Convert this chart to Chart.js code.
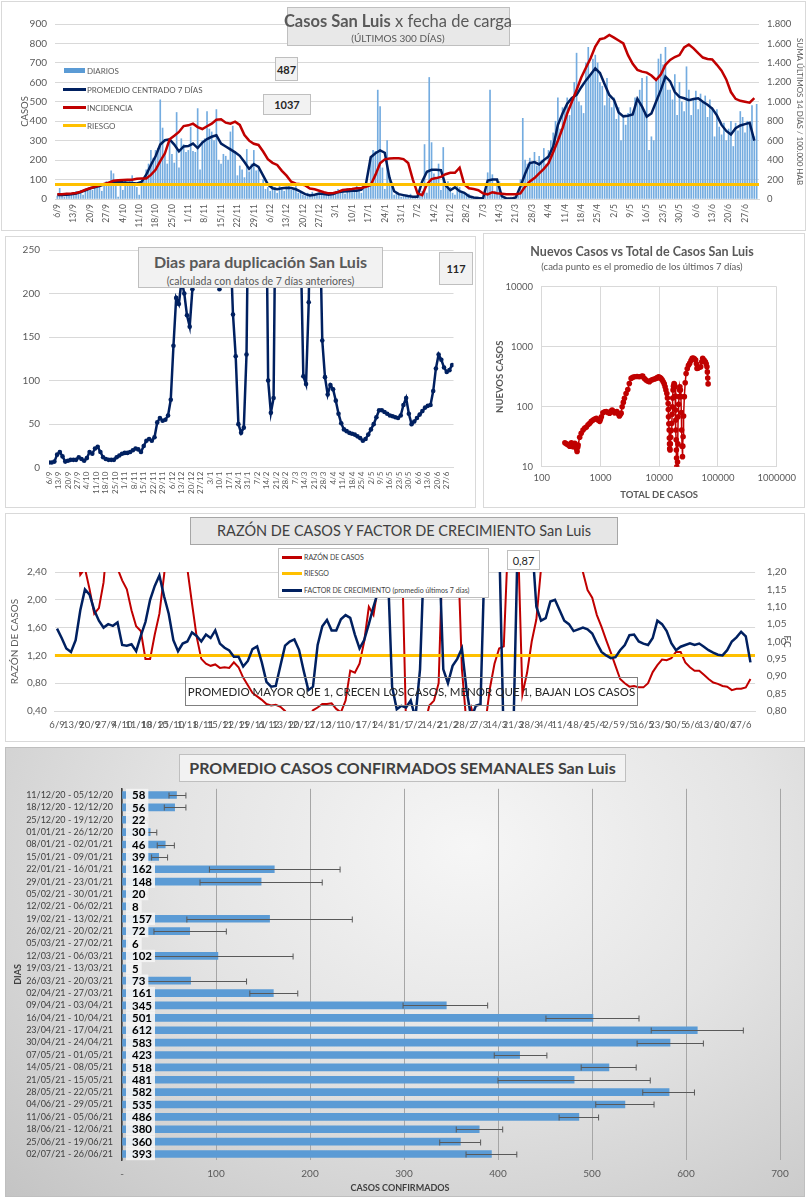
<!DOCTYPE html>
<html lang="es">
<head>
<meta charset="utf-8">
<title>Casos San Luis</title>
<script src="https://cdn.jsdelivr.net/npm/chart.js@4.4.1/dist/chart.umd.min.js"></script>
<style>
body { margin:0; width:807px; height:1200px; position:relative; background:#fff; font-family: Lato, sans-serif; color:#595959; overflow:hidden; }
.panel { position:absolute; border:1px solid #d9d9d9; box-sizing:border-box; background:#fff; }
canvas { position:absolute; }
.caja { position:absolute; box-sizing:border-box; border:1px solid #bfbfbf; background:#f2f2f2; }
.num { display:flex; align-items:center; justify-content:center; font-weight:bold; font-size:11px; color:#262626; }
.t { position:absolute; white-space:nowrap; line-height:1; }
.c { transform:translate(-50%,-50%); }
.l { transform:translateY(-50%); }
.sw { position:absolute; }
</style>
</head>
<body>

<!-- paneles -->
<div class="panel" style="left:1px;top:1px;width:805px;height:230px"></div>
<div class="panel" style="left:5px;top:236px;width:471px;height:272px"></div>
<div class="panel" style="left:483px;top:233px;width:322px;height:275px"></div>
<div class="panel" style="left:5px;top:513px;width:800px;height:229px"></div>
<div class="panel" style="left:5px;top:747px;width:800px;height:450px;border-color:#bfbfbf;background:radial-gradient(ellipse at 58% 22%, #f6f6f6 0%, #e4e4e4 45%, #c4c4c4 100%)"></div>

<canvas id="c1" width="807" height="232" style="left:0;top:0"></canvas>
<canvas id="c2" width="473" height="273" style="left:5px;top:235px"></canvas>
<canvas id="c3" width="325" height="273" style="left:480px;top:235px"></canvas>
<canvas id="c4" width="807" height="228" style="left:0;top:512px"></canvas>
<canvas id="c5" width="800" height="452" style="left:5px;top:745px"></canvas>

<!-- panel 1 -->
<div class="caja" style="left:287px;top:7px;width:223px;height:39px;background:#e8e8e8"></div>
<div class="t c" style="left:398px;top:21px;font-size:16.5px"><b>Casos San Luis</b> x fecha de carga</div>
<div class="t c" style="left:398px;top:38px;font-size:10px">(ÚLTIMOS 300 DÍAS)</div>
<div class="caja num" style="left:275px;top:57px;width:23px;height:24px">487</div>
<div class="caja num" style="left:263px;top:94px;width:48px;height:21px">1037</div>
<div class="sw" style="left:64px;top:68px;width:21px;height:5px;background:#5B9BD5"></div>
<div class="t l" style="left:87px;top:71px;font-size:8px">DIARIOS</div>
<div class="sw" style="left:63px;top:88px;width:23px;height:3px;background:#002060"></div>
<div class="t l" style="left:87px;top:89.5px;font-size:8px">PROMEDIO CENTRADO 7 DÍAS</div>
<div class="sw" style="left:63px;top:106px;width:23px;height:3px;background:#C00000"></div>
<div class="t l" style="left:87px;top:107.5px;font-size:8px">INCIDENCIA</div>
<div class="sw" style="left:63px;top:124px;width:23px;height:3px;background:#FFC000"></div>
<div class="t l" style="left:87px;top:125.5px;font-size:8px">RIESGO</div>

<!-- panel 2 -->
<div class="caja" style="left:138px;top:247px;width:245px;height:41px"></div>
<div class="t c" style="left:260.5px;top:262px;font-size:16px;font-weight:bold">Dias para duplicación San Luis</div>
<div class="t c" style="left:260.5px;top:281px;font-size:10.5px">(calculada con datos de 7 días anteriores)</div>
<div class="caja num" style="left:439px;top:252px;width:34px;height:33px">117</div>

<!-- panel 3 -->
<div class="t c" style="left:642px;top:252px;font-size:12.5px;font-weight:bold">Nuevos Casos vs Total de Casos San Luis</div>
<div class="t c" style="left:642px;top:267px;font-size:9.5px">(cada punto es el promedio de los últimos 7 días)</div>

<!-- panel 4 -->
<div class="caja" style="left:190px;top:517px;width:428px;height:28px;background:#e6e6e6;border-color:#a6a6a6"></div>
<div class="t c" style="left:404px;top:531px;font-size:14.5px;color:#404040">RAZÓN DE CASOS Y FACTOR DE CRECIMIENTO San Luis</div>
<div class="caja" style="left:278px;top:548px;width:211px;height:50px;background:#fff"></div>
<div class="sw" style="left:282px;top:556px;width:20px;height:2.5px;background:#C00000"></div>
<div class="t l" style="left:304px;top:557px;font-size:7px;color:#404040">RAZÓN DE CASOS</div>
<div class="sw" style="left:282px;top:572px;width:20px;height:2.5px;background:#FFC000"></div>
<div class="t l" style="left:304px;top:573px;font-size:7px;color:#404040">RIESGO</div>
<div class="sw" style="left:282px;top:589px;width:20px;height:2.5px;background:#002060"></div>
<div class="t l" style="left:304px;top:590px;font-size:7px;color:#404040">FACTOR DE CRECIMIENTO (promedio últimos 7 días)</div>
<div class="caja num" style="left:507px;top:550px;width:33px;height:20px;background:#fff;font-weight:normal">0,87</div>
<div class="caja" style="left:185px;top:677px;width:453px;height:29px;background:transparent;border-color:#808080"></div>
<div class="t c" style="left:411.5px;top:692px;font-size:11.5px;color:#262626">PROMEDIO MAYOR QUE 1, CRECEN LOS CASOS, MENOR QUE 1, BAJAN LOS CASOS</div>

<!-- panel 5 -->
<div class="caja" style="left:179px;top:754px;width:447px;height:28px"></div>
<div class="t c" style="left:402.5px;top:768px;font-size:16px;font-weight:bold;color:#404040">PROMEDIO CASOS CONFIRMADOS SEMANALES San Luis</div>
<div class="t c" style="left:400px;top:1187px;font-size:9px;font-weight:bold;color:#404040">CASOS CONFIRMADOS</div>

<script>
// etiquetas semanales (cada 7 dias desde 6/9)
const fechas = ['6/9','13/9','20/9','27/9','4/10','11/10','18/10','25/10','1/11','8/11','15/11','22/11','29/11',
  '6/12','13/12','20/12','27/12','3/1','10/1','17/1','24/1','31/1','7/2','14/2','21/2','28/2','7/3','14/3',
  '21/3','28/3','4/4','11/4','18/4','25/4','2/5','9/5','16/5','23/5','30/5','6/6','13/6','20/6','27/6'];

// casos diarios (300 dias)
const diarios = [
  15,55,20,10,30,25,20, 25,40,30,45,20,50,45, 60,45,80,55,70,40,75, 90,65,145,130,70,10,85,
  45,100,80,90,120,75,60, 20,90,110,150,180,250,210, 250,260,510,365,240,180,300,
  230,185,445,160,310,280,240, 250,370,245,240,465,150,300, 310,450,360,345,300,460,200,
  180,230,220,200,345,375,245, 120,170,150,110,255,140,180, 250,145,150,80,100,50,60,
  40,80,60,30,70,55,40, 60,75,45,55,70,30,40, 20,15,30,25,35,20,25, 30,20,35,25,15,30,20,
  40,50,30,45,25,55,35, 50,40,65,45,30,60,55, 80,210,250,245,560,475,160, 50,300,120,60,20,30,25,
  10,15,20,10,25,5,15, 10,20,40,280,30,625,290, 130,100,180,45,265,70,90, 60,30,20,80,60,40,30,
  20,25,10,5,0,10,5, 5,50,135,560,125,40,80, 90,10,5,0,5,10,5, 15,30,100,415,200,180,210,
  190,240,170,220,200,260,180, 250,300,340,400,520,360,470, 460,520,430,510,600,750,500,
  480,440,700,780,640,720,740, 700,600,580,480,620,520,470, 520,410,470,300,430,380,440,
  470,430,520,490,560,620,440, 630,250,320,300,620,720,745, 690,780,560,560,510,640,430,
  600,500,450,680,560,430,510, 555,460,540,500,530,420,510, 470,320,460,370,330,390,300,
  360,400,270,390,350,450,420, 340,400,380,480,320,487
];

// series de linea: un valor cada 2 dias
const PASO = 2;
const promedio7 = [
  20,21,22,24,28,36,45,55,60,66, 75,82,88,90,86,84,82,80,88,125,
  175,220,280,302,307,280,245,270,272,285, 262,290,308,320,328,285,270,255,240,222,
  190,155,180,165,120,75,55,50,55,58, 56,50,38,25,18,22,28,26,22,25,
  35,38,40,42,43,48,80,215,235,250, 238,110,40,25,20,15,12,12,90,140,
  150,150,148,70,45,60,40,32,14,8, 5,4,95,100,100,15,3,2,8,65,
  130,185,190,178,200,218,270,380,440,490, 520,535,575,610,640,672,648,590,535,510,
  445,425,428,435,515,475,424,440,500,560, 630,605,550,525,518,508,514,518,500,485,
  465,430,381,350,332,364,378,385,392,300
];
const incidencia = [
  48,50,54,57,62,75,95,110,125,140, 155,168,188,194,196,198,198,208,212,212,
  248,300,390,470,614,650,690,750,758,775, 740,720,748,775,815,820,785,774,796,762,
  658,600,568,556,488,410,372,350,290,240, 178,158,152,140,108,100,85,70,58,62,
  72,92,98,102,110,114,125,144,248,368, 408,416,418,418,410,370,200,58,40,150,
  205,215,228,255,270,270,322,150,110,102, 90,58,48,70,60,55,50,50,48,58,
  127,180,215,264,310,368,480,600,728,880, 1000,1122,1250,1350,1448,1568,1644,1655,1688,1660,
  1630,1600,1480,1390,1328,1310,1300,1270,1224,1280, 1380,1430,1460,1480,1560,1590,1550,1500,1455,1440,
  1435,1380,1320,1230,1100,1030,1010,1000,990,1037
];
const riesgoIncidencia = 150;

// dias para duplicacion (valores > 250 quedan fuera del eje)
const duplicacion = [
  6,6,7,15,18,13,7,8,9,9, 9,12,10,8,11,18,16,22,24,18,
  12,10,9,9,9,12,14,16,17,17, 18,20,22,21,18,25,31,33,31,35,
  52,57,54,55,60,78,140,195,188,215, 200,175,162,205,400,400,400,400,400,400,
  400,400,400,205,400,400,400,260,176,128, 50,40,46,130,400,400,400,400,400,400,
  400,100,63,80,400,400,400,400,400,400, 400,400,400,260,105,96,190,400,400,400,
  300,146,104,84,95,90,77,62,51,44, 42,40,39,38,36,34,31,33,38,44,
  50,58,66,66,64,62,60,59,58,57, 60,72,80,62,50,53,57,61,65,69,
  71,72,88,114,130,124,115,110,112,118
];

// nuevos casos vs total de casos
const totalCasos = [
  248,265,282,300,320,343,366,380,390,400, 410,417,443,470,505,540,576,615,657,700,
  750,800,854,910,971,1000,1037,1100,1180,1253, 1340,1430,1500,1580,1650,1734,1820,1900,2000,2100,
  2180,2250,2340,2450,2560,2730,2920,3100,3330,3550, 3800,4200,4600,5000,5240,5600,5970,6400,6810,7300,
  7760,8300,8850,9300,9800,10300,10700,11200,11700,12200, 12600,13000,13500,13800,14200,14300,14400,14600,14800,14900,
  15000,15100,15300,15500,15700,16000,16400,16600,16800,17000, 17200,17500,17900,18200,18600,18800,19000,19150,19300,19450,
  19600,19750,19900,20000,20200,20500,20800,21000,21400,21800, 22200,22500,23000,23400,23800,24100,24500,24900,25200,25500,
  26000,26800,27700,28700,30000,31500,33000,34800,36400,38000, 39800,41700,43000,44000,46000,48500,51000,53000,55000,58000,
  61000,63000,65000,66000,67000,68000
];
const nuevosCasos = [
  25,24,23,22,25,21.5,24.5,22,20,18, 21,23,31,36,41,44,46,50,53,57,
  60,62,64,60,57,62,68,79,82,83, 80,78,84,88,84,79,81,83,76,70,
  74,78,100,118,138,166,194,244,296,310, 316,318,316,320,323,295,278,265,261,275,
  284,290,296,305,316,305,296,280,261,240, 215,190,166,140,113,90,68,52,41,30,
  24,20,19,24,31,40,53,75,100,140, 190,220,244,235,215,150,88,60,41,28,
  19,14,10,7,6,12,24,68,110,147, 190,215,190,147,80,41,22,14.7,22,31.6,
  70,147,250,358,430,490,527,590,640,650, 630,600,520,435,440,455,464,560,640,600,
  560,520,464,380,300,240
];
const decadasX = [100, 1000, 10000, 100000, 1000000];
const decadasY = [10, 100, 1000, 10000];

// razon de casos y factor de crecimiento (cada 2 dias)
const razonCasos = [
  3,3,3,3,3,2.36,2.45,2.15,1.80,1.88, 2.25,3,3,2.45,2.28,2.15,1.85,1.62,1.55,1.15,
  1.15,1.50,1.80,2.35,3,3,3,3,2.45,1.95, 1.47,1.15,1.08,1.05,1.07,1.02,1.03,1.02,1.10,1.03,
  0.88,0.77,0.66,0.61,0.56,0.50,0.48,0.49,0.46,0.40, 0.3,0.3,0.3,0.3,0.3,0.41,0.45,0.50,0.50,0.51,
  0.43,0.38,0.55,0.98,0.95,1.08,1.40,1.90,1.78,2.20, 3,3,3,3,3,0.2,0.2,0.2,0.2,0.2,
  0.48,0.55,0.80,3,3,3,3,1.0,0.2,0.45, 0.2,0.2,0.2,0.72,1.08,1.30,1.33,3,3,3,
  0.64,0.95,1.40,1.72,2.45,3,3,3,3,3, 3,3,3,2.40,2.14,2.03,1.78,1.61,1.42,1.24,
  1.05,0.86,0.80,0.75,0.76,0.74,0.74,0.80,0.96,1.06, 1.14,1.13,1.16,1.25,1.25,1.10,1.03,0.98,0.98,0.92,
  0.86,0.81,0.79,0.76,0.75,0.70,0.72,0.72,0.74,0.86
];
const factorCrec = [
  1.037,1.01,0.98,0.97,1.004,1.09,1.15,1.135,1.09,1.06, 1.04,1.05,1.045,1.055,0.99,0.988,0.992,0.972,1.016,1.056,
  1.12,1.16,1.19,1.13,1.08,1.004,0.972,0.994,1.0,1.026, 1.016,1.0,1.02,1.01,1.032,0.994,0.982,0.974,0.956,0.956,
  0.928,0.944,0.978,0.986,0.94,0.884,0.87,0.872,0.93,0.988, 1.0,1.006,0.976,0.916,0.86,0.87,0.99,1.044,1.062,1.032,
  1.032,1.064,1.076,1.068,1.02,0.98,1.004,1.05,1.10,1.144, 1.18,1.24,0.87,0.805,0.815,0.81,0.83,0.78,0.92,1.3,
  1.3,1.3,1.3,0.92,0.88,0.93,0.95,0.98,0.86,0.78, 0.815,0.82,1.3,1.3,1.3,1.3,0.7,0.7,0.7,1.3,
  1.3,1.3,1.3,1.10,1.06,1.067,1.115,1.12,1.09,1.06, 1.05,1.03,1.035,1.04,1.035,1.023,0.995,0.97,0.96,0.952,
  0.955,0.975,0.99,1.018,1.02,1.0,0.994,0.99,1.01,1.06, 1.05,1.03,0.995,0.975,0.985,0.99,0.995,0.99,0.994,0.985,
  0.975,0.968,0.962,0.96,0.975,1.0,1.012,1.028,1.015,0.94
];
const riesgoRazon = 1.2;

// promedio semanal de casos confirmados
const periodos = ['11/12/20 - 05/12/20','18/12/20 - 12/12/20','25/12/20 - 19/12/20','01/01/21 - 26/12/20',
  '08/01/21 - 02/01/21','15/01/21 - 09/01/21','22/01/21 - 16/01/21','29/01/21 - 23/01/21','05/02/21 - 30/01/21',
  '12/02/21 - 06/02/21','19/02/21 - 13/02/21','26/02/21 - 20/02/21','05/03/21 - 27/02/21','12/03/21 - 06/03/21',
  '19/03/21 - 13/03/21','26/03/21 - 20/03/21','02/04/21 - 27/03/21','09/04/21 - 03/04/21','16/04/21 - 10/04/21',
  '23/04/21 - 17/04/21','30/04/21 - 24/04/21','07/05/21 - 01/05/21','14/05/21 - 08/05/21','21/05/21 - 15/05/21',
  '28/05/21 - 22/05/21','04/06/21 - 29/05/21','11/06/21 - 05/06/21','18/06/21 - 12/06/21','25/06/21 - 19/06/21',
  '02/07/21 - 26/06/21'];
const promedios = [58,56,22,30,46,39,162,148,20,8,157,72,6,102,5,73,161,345,501,612,583,423,518,481,582,535,486,380,360,393];
const errorMin = [50,45,18,25,37.5,31.5,93,83,13,null,69,34,null,22,null,26,136,299,451,563,548,396,488.5,400,554,504,465,355.6,338,366];
const errorMax = [68,68,27,37,55.7,48.5,232,213,27,null,245,111,null,182,null,132.5,187,389,550,661,618.5,452,547,562,609,566,507,405,381.5,420];

Chart.defaults.font.family = 'Lato, sans-serif';
Chart.defaults.color = '#595959';
Chart.defaults.animation = false;
Chart.defaults.events = [];
Chart.defaults.plugins.legend.display = false;
Chart.defaults.plugins.tooltip.enabled = false;

const ancho = w => s => { s.width = w; };
const alto = h => s => { s.height = h; };
const puntos = (arr, paso) => arr.map((v, i) => ({x: i * paso, y: v}));
const miles = v => v >= 1000 ? Math.floor(v / 1000) + '.' + String(v % 1000).padStart(3, '0') : String(v);
const coma = v => v.toFixed(2).replace('.', ',');
const ticksSemana = s => { s.ticks = fechas.map((f, i) => ({value: i * 7})); };

// 1. casos por fecha de carga
new Chart(document.getElementById('c1'), {
  type: 'bar',
  data: {
    datasets: [
      {type: 'line', data: [{x: -1, y: riesgoIncidencia}, {x: 300, y: riesgoIncidencia}], yAxisID: 'y2',
       borderColor: '#FFC000', borderWidth: 3, pointRadius: 0, order: 1},
      {type: 'line', data: puntos(incidencia, PASO), yAxisID: 'y2',
       borderColor: '#C00000', borderWidth: 2.5, pointRadius: 0, order: 2},
      {type: 'line', data: puntos(promedio7, PASO), yAxisID: 'y',
       borderColor: '#002060', borderWidth: 2.5, pointRadius: 0, order: 3},
      {type: 'bar', data: puntos(diarios, 1), yAxisID: 'y',
       backgroundColor: '#74ACE0', barThickness: 1, order: 4}
    ]
  },
  options: {
    responsive: false,
    layout: {padding: {top: 24, left: 0, right: 0, bottom: 0}},
    scales: {
      x: {type: 'linear', min: -1, max: 300, offset: false,
          grid: {display: false, drawTicks: false}, border: {color: '#d9d9d9'},
          afterBuildTicks: ticksSemana, afterFit: alto(33),
          ticks: {autoSkip: false, minRotation: 90, maxRotation: 90, padding: 5, font: {size: 8.5},
                  callback: v => fechas[v / 7]}},
      y: {position: 'left', min: 0, max: 900,
          ticks: {stepSize: 100, padding: 8, font: {size: 10}},
          grid: {color: '#d9d9d9', drawTicks: false}, border: {display: false},
          title: {display: true, text: 'CASOS', font: {size: 9.5}, padding: {top: 19, bottom: 0}},
          afterFit: ancho(55)},
      y2: {position: 'right', min: 0, max: 1800,
           ticks: {stepSize: 200, padding: 8, font: {size: 9.5}, callback: miles},
           grid: {drawOnChartArea: false, drawTicks: false}, border: {display: false},
           title: {display: true, text: 'SUMA ÚLTIMOS 14 DÍAS / 100.000 HAB', font: {size: 8}, padding: {top: 3, bottom: 0}},
           afterFit: ancho(48)}
    }
  }
});

// 2. dias para duplicacion
new Chart(document.getElementById('c2'), {
  type: 'line',
  data: {
    datasets: [{data: puntos(duplicacion, PASO), borderColor: '#002060', borderWidth: 2.5,
                pointRadius: 2.3, pointBorderWidth: 0, pointBackgroundColor: '#002060'}]
  },
  options: {
    responsive: false,
    layout: {padding: {top: 13.3, left: 0, right: 24.5, bottom: 0}},
    scales: {
      x: {type: 'linear', min: 0, max: 299, offset: false,
          grid: {display: false, drawTicks: false}, border: {color: '#d9d9d9'},
          afterBuildTicks: ticksSemana, afterFit: alto(40.3),
          ticks: {autoSkip: false, minRotation: 90, maxRotation: 90, padding: 4, font: {size: 8},
                  callback: v => fechas[v / 7]}},
      y: {min: 0, max: 250, ticks: {stepSize: 50, padding: 9, font: {size: 10}},
          grid: {color: '#d9d9d9', drawTicks: false}, border: {display: false},
          afterFit: ancho(44)}
    }
  }
});

// 3. nuevos casos vs total (log-log)
new Chart(document.getElementById('c3'), {
  type: 'scatter',
  data: {
    datasets: [{data: totalCasos.map((t, i) => ({x: t, y: nuevosCasos[i]})), showLine: true,
                borderColor: '#C00000', borderWidth: 1.5, pointRadius: 2.8, pointBorderWidth: 0,
                pointBackgroundColor: '#C00000'}]
  },
  options: {
    responsive: false,
    layout: {padding: {top: 51.7, left: 0, right: 28.3, bottom: 0}},
    scales: {
      x: {type: 'logarithmic', min: 100, max: 1000000,
          afterBuildTicks: s => { s.ticks = decadasX.map(v => ({value: v})); },
          ticks: {callback: v => String(v), padding: 6, font: {size: 9.5}},
          grid: {color: '#d9d9d9', drawTicks: false}, border: {color: '#d9d9d9'},
          title: {display: true, text: 'TOTAL DE CASOS', font: {size: 9.5, weight: 'bold'}, padding: {top: 0, bottom: 7.3}},
          afterFit: alto(41.3)},
      y: {type: 'logarithmic', min: 10, max: 10000,
          afterBuildTicks: s => { s.ticks = decadasY.map(v => ({value: v})); },
          ticks: {callback: v => String(v), padding: 8.7, font: {size: 9.5}},
          grid: {color: '#d9d9d9', drawTicks: false}, border: {color: '#d9d9d9'},
          title: {display: true, text: 'NUEVOS CASOS', font: {size: 9.5, weight: 'bold'}, padding: {top: 14.3, bottom: 0}},
          afterFit: ancho(61.7)}
    }
  }
});

// 4. razon de casos y factor de crecimiento
new Chart(document.getElementById('c4'), {
  type: 'line',
  data: {
    datasets: [
      {data: puntos(factorCrec, PASO), yAxisID: 'y2', borderColor: '#002060', borderWidth: 2.5, pointRadius: 0, order: 1},
      {data: [{x: -1, y: riesgoRazon}, {x: 300, y: riesgoRazon}], yAxisID: 'y',
       borderColor: '#FFC000', borderWidth: 3, pointRadius: 0, order: 2},
      {data: puntos(razonCasos, PASO), yAxisID: 'y', borderColor: '#C00000', borderWidth: 2, pointRadius: 0, order: 3}
    ]
  },
  options: {
    responsive: false,
    layout: {padding: {top: 60, left: 0, right: 0, bottom: 0}},
    scales: {
      x: {type: 'linear', min: -1, max: 300, offset: false,
          grid: {display: false, drawTicks: false}, border: {color: '#d9d9d9'},
          afterBuildTicks: ticksSemana, afterFit: alto(29),
          ticks: {autoSkip: false, minRotation: 0, maxRotation: 0, padding: 8, font: {size: 9.5},
                  callback: v => fechas[v / 7]}},
      y: {position: 'left', min: 0.4, max: 2.4,
          ticks: {stepSize: 0.2, padding: 8, font: {size: 10}, callback: coma},
          grid: {color: '#d9d9d9', drawTicks: false}, border: {display: false},
          title: {display: true, text: 'RAZÓN DE CASOS', font: {size: 10}, padding: {top: 9, bottom: 0}},
          afterFit: ancho(54.7)},
      y2: {position: 'right', min: 0.8, max: 1.2,
           ticks: {stepSize: 0.05, padding: 11.7, font: {size: 10}, callback: coma},
           grid: {drawOnChartArea: false, drawTicks: false}, border: {display: false},
           title: {display: true, text: 'FC', font: {size: 10}, padding: {top: 14, bottom: 0}},
           afterFit: ancho(51.9)}
    }
  }
});

// 5. promedio semanal con barras de error y etiquetas
const erroresYEtiquetas = {
  id: 'erroresYEtiquetas',
  afterDatasetsDraw(chart) {
    const {ctx, scales: {x}} = chart;
    const barras = chart.getDatasetMeta(0).data;
    ctx.save();
    ctx.strokeStyle = '#595959';
    ctx.lineWidth = 1;
    barras.forEach((b, i) => {
      if (errorMin[i] == null) return;
      const x1 = x.getPixelForValue(errorMin[i]);
      const x2 = x.getPixelForValue(errorMax[i]);
      const y = Math.round(b.y) + 0.5;
      ctx.beginPath();
      ctx.moveTo(x1, y); ctx.lineTo(x2, y);
      ctx.moveTo(x1, y - 3); ctx.lineTo(x1, y + 3);
      ctx.moveTo(x2, y - 3); ctx.lineTo(x2, y + 3);
      ctx.stroke();
    });
    const x0 = x.getPixelForValue(0);
    const fila = barras.length > 1 ? Math.abs(barras[1].y - barras[0].y) : 12;
    ctx.font = 'bold 11.5px Lato, sans-serif';
    ctx.textBaseline = 'middle';
    barras.forEach((b, i) => {
      const t = String(promedios[i]);
      const w = ctx.measureText(t).width;
      ctx.fillStyle = 'rgba(244,244,244,0.92)';
      ctx.fillRect(x0 + 4, b.y - fila / 2, w + 9, fila);
      ctx.fillStyle = '#000';
      ctx.fillText(t, x0 + 10, b.y + 0.5);
    });
    ctx.restore();
  }
};

new Chart(document.getElementById('c5'), {
  type: 'bar',
  data: {labels: periodos, datasets: [{data: promedios, backgroundColor: '#5B9BD5', barThickness: 7}]},
  options: {
    indexAxis: 'y',
    responsive: false,
    layout: {padding: {top: 43.8, left: 0, right: 25, bottom: 0}},
    scales: {
      x: {min: 0, max: 700,
          ticks: {stepSize: 100, padding: 8, font: {size: 10}, callback: v => v === 0 ? '-' : v},
          grid: {color: '#a6a6a6', drawTicks: false}, border: {display: false},
          afterFit: alto(36.8)},
      y: {grid: {display: false, drawTicks: false}, border: {color: '#404040', width: 1.5},
          ticks: {autoSkip: false, padding: 9, font: {size: 9}, color: '#404040'},
          title: {display: true, text: 'DIAS', font: {size: 9, weight: 'bold'}, color: '#404040', padding: {top: 7.6, bottom: 0}},
          afterFit: ancho(117)}
    }
  },
  plugins: [erroresYEtiquetas]
});
</script>
</body>
</html>
